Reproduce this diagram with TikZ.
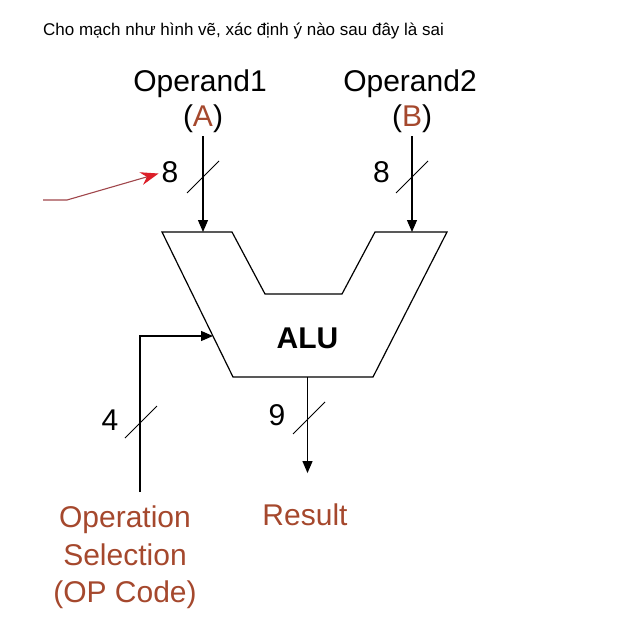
\documentclass[tikz,border=0pt]{standalone}
\usepackage{fontspec}
\setmainfont{Liberation Sans}
\usepackage{xcolor}
\usetikzlibrary{arrows.meta}
\definecolor{sig}{RGB}{165, 72, 45}
\definecolor{ptr}{RGB}{220, 30, 40}
\definecolor{ptrline}{RGB}{160, 70, 75}
\tikzset{
  wire/.style={line width=1.2pt, -{Triangle[length=12pt,width=10pt]}},
  tick/.style={line width=0.9pt},
  lbl/.style={font=\fontsize{30}{37.5}\selectfont, inner sep=0pt},
}

\begin{document}
\begin{tikzpicture}[x=1pt, y=-1pt]
      \useasboundingbox (0,0) rectangle (629,636);
      \node[anchor=base west, inner sep=0pt, font=\fontsize{17}{20}\selectfont](title) at (43,36) {Cho mạch như hình vẽ, xác định ý nào sau đây là sai};
      % the ALU block
      \draw[line width=1.2pt] (162,232)--(232,232)--(265,294)--(342,294)--(375,232)--(447,232)--(373,377)--(233,377)--cycle;
      \node[lbl, font=\bfseries\fontsize{30}{37.5}\selectfont, anchor=base](alu) at (307.5,348) {ALU};
      \coordinate(in1) at (203,232);
      \coordinate(in2) at (412,232);
      \coordinate(sel) at (213,336);
      \coordinate(out) at (307.5,377);
      % operand A
      \node[lbl, anchor=base](op1) at (200,92) {Operand1};
      \node[lbl, anchor=base, inner sep=3pt](a) at (203,127) {(\textcolor{sig}{A})};
      \draw[wire] (a.south)--(in1);
      \draw[tick] (203,177) ++(-16,16)--++(32,-32);
      \node[lbl, anchor=base](n1) at (170,183) {8};
      % operand B
      \node[lbl, anchor=base](op2) at (410,92) {Operand2};
      \node[lbl, anchor=base, inner sep=3pt](b) at (412,127) {(\textcolor{sig}{B})};
      \draw[wire] (b.south)--(in2);
      \draw[tick] (412,177) ++(-16,16)--++(32,-32);
      \node[lbl, anchor=base](n2) at (381.5,183) {8};
      % op code
      \node[lbl, align=center, anchor=north, text=sig](opc) at (125,506) {Operation\\Selection\\(OP Code)};
      \draw[wire, shorten <=14pt] ([xshift=15pt]opc.north) |- (sel);
      \draw[tick] (141,422) ++(-16,16)--++(32,-32);
      \node[lbl, anchor=base](n3) at (110,430) {4};
      % result
      \node[lbl, anchor=base, text=sig](res) at (305,525) {Result};
      \draw[wire, shorten >=30pt] (out)--(out |- res.north);
      \draw[tick] (309,418) ++(-16,16)--++(32,-32);
      \node[lbl, anchor=base](n4) at (277,425) {9};
      % pointer
      \coordinate(tail) at (43,200);
      \draw[color=ptrline, line width=1.1pt, shorten >=3pt, -{Stealth[length=18pt,width=13pt,color=ptr]}] (tail)--++(24,0)--(n1.west);
    \end{tikzpicture}
\end{document}
